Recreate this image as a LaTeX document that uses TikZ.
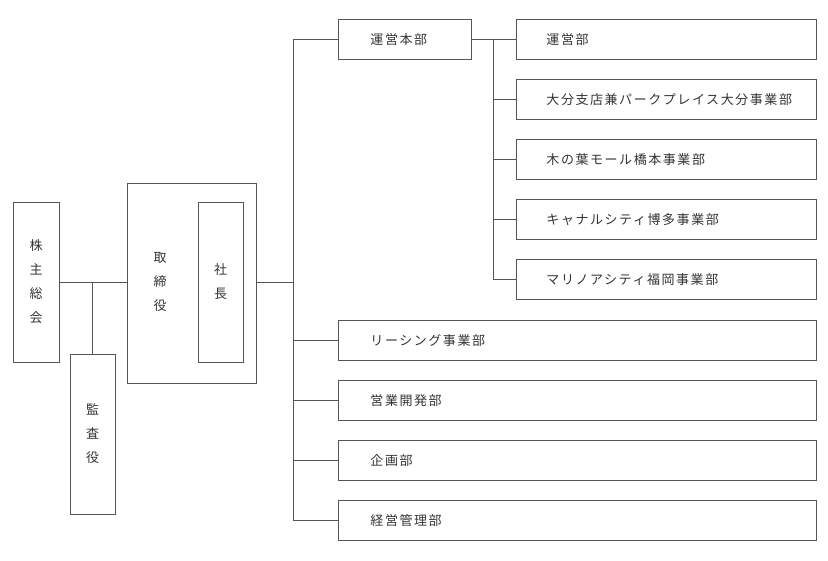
\documentclass[tikz,border=0pt]{standalone}
\usepackage{fontspec}
\newfontfamily\jp{Noto Sans CJK JP}[LetterSpace=12]
\definecolor{ln}{HTML}{555555}
\definecolor{tx}{HTML}{333333}
\tikzset{
  lbl/.style={inner sep=0pt, font=\jp\fontsize{13}{24}\selectfont, text=tx},
  box/.style={lbl, draw=ln, line width=0.9pt, rectangle},
  vbox/.style={box, minimum width=45pt, minimum height=160pt, align=center},
  conn/.style={draw=ln, line width=0.9pt},
}
\begin{document}
\begin{tikzpicture}[x=1pt,y=-1pt]
\useasboundingbox (0,0) rectangle (828,561);
% left part
\node[vbox, minimum width=46pt] (kabu) at (36,282) {株\\主\\総\\会};
\node[vbox] (kansa) at (92.5,434) {監\\査\\役};
\node[box, minimum width=129pt, minimum height=200pt] (tori) at (191.5,283) {};
\node[lbl, align=center] (toritext) at (160,282) {取\\締\\役};
\node[vbox] (shacho) at (220.5,282) {社\\長};
% trunks
\coordinate (t) at (293,0);
\coordinate (s) at (493,0);
% center column
\node[box, minimum width=133pt, minimum height=40pt, anchor=west, text width=133pt, align=left] (honbu) at (338,39.5) {\hspace{32pt}運営本部};
\node[box, minimum width=478pt, minimum height=40pt, anchor=west, text width=478pt, align=left] (leasing) at (338,340.5) {\hspace{32pt}リーシング事業部};
\node[box, minimum width=478pt, minimum height=40pt, anchor=west, text width=478pt, align=left] (eigyo) at (338,400.5) {\hspace{32pt}営業開発部};
\node[box, minimum width=478pt, minimum height=40pt, anchor=west, text width=478pt, align=left] (kikaku) at (338,460.5) {\hspace{32pt}企画部};
\node[box, minimum width=478pt, minimum height=40pt, anchor=west, text width=478pt, align=left] (keiei) at (338,520.5) {\hspace{32pt}経営管理部};
% right column
\node[box, minimum width=300pt, minimum height=40pt, anchor=west, text width=300pt, align=left] (unei) at (516,39.5) {\hspace{30pt}運営部};
\node[box, minimum width=300pt, minimum height=40pt, anchor=west, text width=300pt, align=left] (oita) at (516,99.5) {\hspace{30pt}大分支店兼パークプレイス大分事業部};
\node[box, minimum width=300pt, minimum height=40pt, anchor=west, text width=300pt, align=left] (konoha) at (516,159.5) {\hspace{30pt}木の葉モール橋本事業部};
\node[box, minimum width=300pt, minimum height=40pt, anchor=west, text width=300pt, align=left] (canal) at (516,219.5) {\hspace{30pt}キャナルシティ博多事業部};
\node[box, minimum width=300pt, minimum height=40pt, anchor=west, text width=300pt, align=left] (marino) at (516,279.5) {\hspace{30pt}マリノアシティ福岡事業部};
% connectors
\draw[conn] (kabu.east) -- (kabu.east -| tori.west);
\draw[conn] (kansa.north) -- (kansa.north |- kabu.east);
\draw[conn] (shacho.east -| tori.east) -- (shacho.east -| t);
\draw[conn] (honbu.west) -- (honbu.west -| t) -- (keiei.west -| t) -- (keiei.west);
\draw[conn] (leasing.west -| t) -- (leasing.west);
\draw[conn] (eigyo.west -| t) -- (eigyo.west);
\draw[conn] (kikaku.west -| t) -- (kikaku.west);
\draw[conn] (honbu.east) -- (unei.west);
\draw[conn] (unei.west -| s) -- (marino.west -| s) -- (marino.west);
\draw[conn] (oita.west -| s) -- (oita.west);
\draw[conn] (konoha.west -| s) -- (konoha.west);
\draw[conn] (canal.west -| s) -- (canal.west);
\end{tikzpicture}
\end{document}
